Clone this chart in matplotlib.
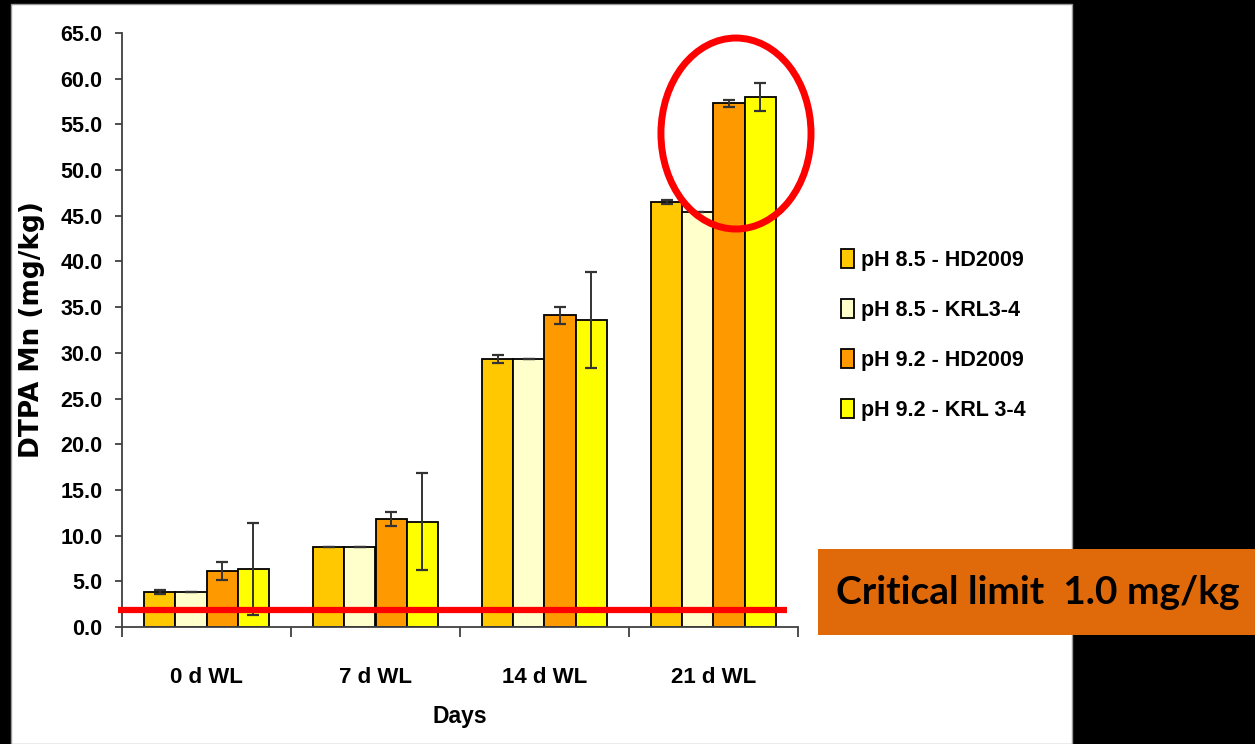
"""DTPA Mn by days of waterlogging, pH and variety (grouped bars with SD)."""

import matplotlib

matplotlib.use("Agg")
import matplotlib.pyplot as plt
import numpy as np
from matplotlib.patches import Ellipse, Rectangle

# data
days = ["0 d WL", "7 d WL", "14 d WL", "21 d WL"]
series = ["pH 8.5 - HD2009", "pH 8.5 - KRL3-4", "pH 9.2 - HD2009", "pH 9.2 - KRL 3-4"]
ph85_hd2009 = [3.8, 8.8, 29.3, 46.5]
ph85_krl34 = [3.8, 8.8, 29.3, 45.4]
ph92_hd2009 = [6.1, 11.8, 34.1, 57.3]
ph92_krl34 = [6.35, 11.5, 33.6, 58.0]
err_ph85_hd2009 = [0.2, 0.0, 0.45, 0.2]
err_ph85_krl34 = [0.0, 0.0, 0.0, 0.0]
err_ph92_hd2009 = [1.0, 0.75, 0.9, 0.4]
err_ph92_krl34 = [5.0, 5.3, 5.3, 1.5]
critical_line_y = 1.9
critical_text = "Critical limit  1.0 mg/kg"

colors = ["#FFC800", "#FFFFCC", "#FF9900", "#FFFF00"]

plt.rcParams["font.family"] = ["Liberation Sans", "DejaVu Sans"]
plt.rcParams["font.weight"] = "bold"

W, H = 1255, 744
fig = plt.figure(figsize=(W / 100, H / 100), dpi=100, facecolor="black")

# white slide panel
fig.patches.append(Rectangle((11 / W, 0), (1072 - 11) / W, (H - 4) / H,
                             transform=fig.transFigure, facecolor="white",
                             edgecolor="#999999", lw=1, zorder=-5))

ax = fig.add_axes([122 / W, (H - 627) / H, (798 - 122) / W, (627 - 33) / H])
ax.set_facecolor("none")

values = [ph85_hd2009, ph85_krl34, ph92_hd2009, ph92_krl34]
errors = [err_ph85_hd2009, err_ph85_krl34, err_ph92_hd2009, err_ph92_krl34]
x = np.arange(len(days))
width = 0.185
handles = []
for i, (vals, errs) in enumerate(zip(values, errors)):
    pos = x + (i - 1.5) * width
    b = ax.bar(pos, vals, width, color=colors[i], edgecolor="black", lw=1.3,
               label=series[i], zorder=2)
    handles.append(b)
    ax.errorbar(pos, vals, yerr=errs, fmt="none", ecolor="#333333",
                elinewidth=1.4, capsize=4, capthick=1.6, zorder=3)

ax.set_xlim(-0.5, len(days) - 0.5)
ax.set_ylim(0, 65)
ax.set_yticks(np.arange(0, 65.1, 5))
ax.set_yticklabels([f"{v:.1f}" for v in np.arange(0, 65.1, 5)])
ax.set_xticks(x)
ax.set_xticklabels(days)
ax.set_xticks(np.arange(-0.5, len(days)), minor=True)
ax.tick_params(axis="x", which="major", length=0, pad=29, labelsize=16)
ax.tick_params(axis="x", which="minor", length=7, width=1.3, color="#404040")
ax.tick_params(axis="y", length=5, width=1.3, color="#404040", pad=9, labelsize=15.5)
for side in ("top", "right"):
    ax.spines[side].set_visible(False)
for side in ("left", "bottom"):
    ax.spines[side].set_color("#404040")
    ax.spines[side].set_linewidth(1.3)

ax.set_ylabel("DTPA Mn (mg/kg)", family="DejaVu Sans", fontsize=19, fontweight="bold")
ax.yaxis.set_label_coords(-0.114, 0.5)
ax.set_xlabel("Days", fontsize=16.5, fontweight="bold", labelpad=12)

# critical limit line and highlight ellipse
ax.plot([-0.524, 3.435], [critical_line_y, critical_line_y], color="#FF0000",
        lw=4.5, solid_capstyle="butt", clip_on=False, zorder=4)
ax.add_patch(Ellipse((3.133, 54.0), 0.888, 20.9, fill=False, edgecolor="#FF0000",
                     lw=5, clip_on=False, zorder=5))

fig.legend(handles=handles, labels=series, loc="upper left",
           bbox_to_anchor=(830 / W, 1 - 238 / H), frameon=False, fontsize=15.5,
           handlelength=0.6, handleheight=1.0, handletextpad=0.35,
           labelspacing=1.3, borderpad=0)

# orange call-out box
fig.patches.append(Rectangle((818 / W, (H - 635) / H), (W - 818) / W, 86 / H,
                             transform=fig.transFigure, facecolor="#E06A0A",
                             edgecolor="none", zorder=2))
fig.text(836 / W, (H - 592) / H, critical_text, fontsize=28, color="black",
         family=["Lato", "DejaVu Sans"], fontweight="bold", ha="left", va="center",
         zorder=3)

fig.savefig("out.png", dpi=100, facecolor="black")
